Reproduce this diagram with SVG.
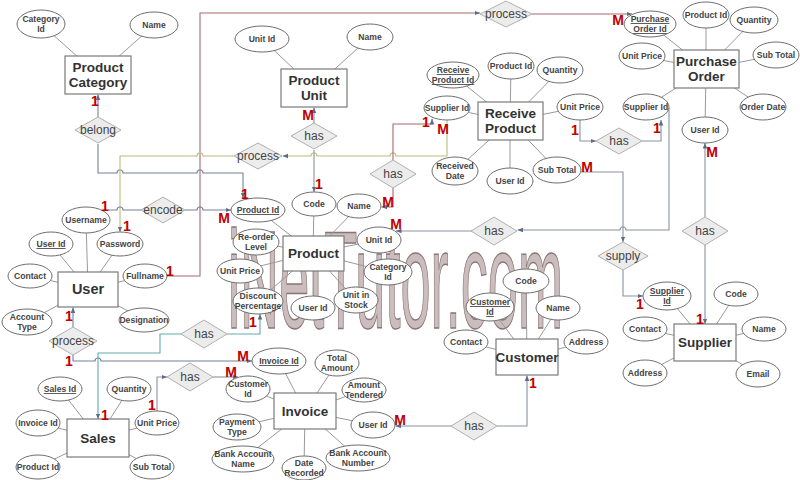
<svg xmlns="http://www.w3.org/2000/svg" width="800" height="480" viewBox="0 0 800 480">
<style>
text{font-family:"Liberation Sans",Arial,sans-serif;}
.ent rect{fill:#fff;stroke:#7a7a7a;stroke-width:1.2;}
.ent text{font-size:13.5px;font-weight:bold;fill:#333;text-anchor:middle;}
.att ellipse{fill:#fff;stroke:#6e6e6e;stroke-width:1;}
.att text{font-size:8.6px;font-weight:bold;fill:#444;text-anchor:middle;}
.u{text-decoration:underline;}
.rel polygon{fill:#ececec;stroke:#b0b0b0;stroke-width:1;}
.rel text{font-size:12px;fill:#444;text-anchor:middle;}
.al{stroke:#9a9a9a;stroke-width:1;fill:none;}
.c{fill:none;stroke-width:1.1;}
.gb{stroke:#75829a;}
.gr{stroke:#8a93a0;}
.mr{stroke:#a8696e;}
.ol{stroke:#bcbc7c;}
.tl{stroke:#63abab;}
.card{font-size:14px;font-weight:bold;fill:#c00000;text-anchor:middle;}
.wm{font-size:140px;fill:#cbbdbd;stroke:#8a7474;stroke-width:1.5;}
</style>
<defs>
<marker id="ar" viewBox="0 0 6 6" refX="6" refY="3" markerWidth="5" markerHeight="5" orient="auto"><path d="M0,0.5 L6,3 L0,5.5 z" fill="#5d6c86"/></marker>
</defs>
<rect width="800" height="480" fill="#fff"/>
<g id="watermark"><text class="wm" x="228" y="328" textLength="335" lengthAdjust="spacingAndGlyphs">iNetTutor.com</text></g>
<g id="connectors">
<g class="al">
<path d="M98,75L41,24M98,75L154,25"/>
<path d="M314,88L262,39M314,88L370,37"/>
<path d="M510,121L453,75M510,121L511,66M510,121L560,70M510,121L447,108M510,121L580,107M510,121L455,171M510,121L510,181M510,121L557,170"/>
<path d="M706,69L650,24M706,69L706,15M706,69L754,20M706,69L642,56M706,69L776,55M706,69L646,107M706,69L763,107M706,69L705,130"/>
<path d="M313,253L258,210M313,253L314,204M313,253L359,206M313,253L379,240M313,253L388,272M313,253L356,300M313,253L313,308M313,253L258,301M313,253L240,271M313,253L256,242"/>
<path d="M88,289L86,220M88,289L51,244M88,289L120,244M88,289L30,276M88,289L145,276M88,289L27,322M88,289L144,320"/>
<path d="M98,438L60,389M98,438L129,389M98,438L38,423M98,438L157,423M98,438L38,467M98,438L152,467"/>
<path d="M305,411L279,361M305,411L337,363M305,411L364,390M305,411L248,389M305,411L237,427M305,411L373,425M305,411L243,459M305,411L304,468M305,411L358,458"/>
<path d="M527,357L526,281M527,357L490,307M527,357L558,308M527,357L466,342M527,357L586,342"/>
<path d="M705,342L667,296M705,342L736,294M705,342L645,329M705,342L764,329M705,342L645,373M705,342L758,374"/>
</g>
<path class="c gb" d="M98,117V94.5" marker-end="url(#ar)"/>
<path class="c gb" d="M98,144V173H117a3,3 0 0 1 6,0H197a3,3 0 0 1 6,0H243V198" marker-end="url(#ar)"/>
<path class="c mr" d="M167,276H200V13H480" marker-end="url(#ar)"/>
<path class="c mr" d="M532,14H632" marker-end="url(#ar)"/>
<path class="c ol" d="M447,120V156H396a3,3 0 0 0 -6,0H317a3,3 0 0 0 -6,0H282.5" marker-end="url(#ar)"/>
<path class="c ol" d="M234,156H203a3,3 0 0 0 -6,0H120V232" marker-end="url(#ar)"/>
<path class="c gr" d="M314,123V107.5" marker-end="url(#ar)"/>
<path class="c gr" d="M314,150V192" marker-end="url(#ar)"/>
<path class="c mr" d="M393,160V124H432V119" marker-end="url(#ar)"/>
<path class="c mr" d="M393,188V207H381.5" marker-end="url(#ar)"/>
<path class="c gb" d="M108,210H117a3,3 0 0 1 6,0H142"/>
<path class="c gb" d="M185,210H197a3,3 0 0 1 6,0H231" marker-end="url(#ar)"/>
<path class="c gr" d="M580,120V141H596" marker-end="url(#ar)"/>
<path class="c gr" d="M642,141H661V120" marker-end="url(#ar)"/>
<path class="c gr" d="M669,108V230H626a3,3 0 0 0 -6,0H517.5" marker-end="url(#ar)"/>
<path class="c gr" d="M472,231H396" marker-end="url(#ar)"/>
<path class="c gr" d="M581,172H623V242" marker-end="url(#ar)"/>
<path class="c gr" d="M623,270V296H643" marker-end="url(#ar)"/>
<path class="c gr" d="M705,217V143" marker-end="url(#ar)"/>
<path class="c gr" d="M705,245V324" marker-end="url(#ar)"/>
<path class="c gb" d="M73,327V307.5" marker-end="url(#ar)"/>
<path class="c gb" d="M73,355V361H95a3,3 0 0 1 6,0H252" marker-end="url(#ar)"/>
<path class="c tl" d="M181,334H160V353H98V419" marker-end="url(#ar)"/>
<path class="c tl" d="M227,334H260V314" marker-end="url(#ar)"/>
<path class="c gr" d="M157,411V377H167" marker-end="url(#ar)"/>
<path class="c gr" d="M213,377H238" marker-end="url(#ar)"/>
<path class="c gr" d="M451,426H395.5" marker-end="url(#ar)"/>
<path class="c gr" d="M497,426H527V375.5" marker-end="url(#ar)"/>
</g>
<g class="rel">
<g id="r-belong"><polygon points="75,130 98,117 121,130 98,143"/><text x="98" y="134">belong</text></g>
<g id="r-process-po"><polygon points="480,14 506,1 532,14 506,27"/><text x="506" y="18">process</text></g>
<g id="r-process-mid"><polygon points="234,156 258,143 282,156 258,169"/><text x="258" y="160">process</text></g>
<g id="r-has-unit"><polygon points="291,136 314,123 337,136 314,149"/><text x="314" y="140">has</text></g>
<g id="r-has-rpsupp"><polygon points="370,174 393,160 416,174 393,188"/><text x="393" y="178">has</text></g>
<g id="r-encode"><polygon points="141,210 163,197 185,210 163,223"/><text x="163" y="214">encode</text></g>
<g id="r-has-price"><polygon points="596,141 619,128 642,141 619,154"/><text x="619" y="145">has</text></g>
<g id="r-has-unitid"><polygon points="471,231 494,217 517,231 494,245"/><text x="494" y="235">has</text></g>
<g id="r-supply"><polygon points="598,256 623,242 648,256 623,270"/><text x="623" y="260">supply</text></g>
<g id="r-has-supplier"><polygon points="682,231 705,217 728,231 705,245"/><text x="705" y="235">has</text></g>
<g id="r-process-user"><polygon points="49,341 73,327 97,341 73,355"/><text x="73" y="345">process</text></g>
<g id="r-has-sales"><polygon points="181,334 204,320 227,334 204,348"/><text x="204" y="338">has</text></g>
<g id="r-has-invoice"><polygon points="167,377 190,363 213,377 190,391"/><text x="190" y="381">has</text></g>
<g id="r-has-customer"><polygon points="451,426 474,412 497,426 474,440"/><text x="474" y="430">has</text></g>
</g>
<g class="ent">
<g id="e-product-category"><rect x="65" y="56" width="66" height="38"/><text x="98" y="72">Product</text><text x="98" y="87">Category</text></g>
<g id="e-product-unit"><rect x="281" y="69" width="66" height="38"/><text x="314" y="85">Product</text><text x="314" y="100">Unit</text></g>
<g id="e-receive-product"><rect x="478" y="102" width="65" height="38"/><text x="510.5" y="118">Receive</text><text x="510.5" y="133">Product</text></g>
<g id="e-purchase-order"><rect x="674" y="50" width="65" height="38"/><text x="706.5" y="66">Purchase</text><text x="706.5" y="81">Order</text></g>
<g id="e-product"><rect x="283" y="236" width="61" height="35"/><text x="313.5" y="258">Product</text></g>
<g id="e-user"><rect x="58" y="272" width="60" height="35"/><text x="88" y="294" style="font-size:14.5px">User</text></g>
<g id="e-sales"><rect x="67" y="419" width="62" height="38"/><text x="98" y="443">Sales</text></g>
<g id="e-invoice"><rect x="274" y="393" width="62" height="36"/><text x="305" y="416">Invoice</text></g>
<g id="e-customer"><rect x="496" y="339" width="62" height="36"/><text x="527" y="362">Customer</text></g>
<g id="e-supplier"><rect x="674" y="324" width="62" height="37"/><text x="705" y="347">Supplier</text></g>
</g>
<g class="att">
<g id="a-pc-catid"><ellipse cx="41" cy="24" rx="24" ry="14"/><text x="41" y="22">Category</text><text x="41" y="32">Id</text></g>
<g id="a-pc-name"><ellipse cx="154" cy="25" rx="24" ry="13"/><text x="154" y="28">Name</text></g>
<g id="a-pu-unitid"><ellipse cx="262" cy="39" rx="27" ry="13"/><text x="262" y="42">Unit Id</text></g>
<g id="a-pu-name"><ellipse cx="370" cy="37" rx="23" ry="13"/><text x="370" y="40">Name</text></g>
<g id="a-rp-id"><ellipse cx="453" cy="75" rx="26" ry="13"/><text class="u" x="453" y="73">Receive</text><text class="u" x="453" y="83">Product Id</text></g>
<g id="a-rp-productid"><ellipse cx="511" cy="66" rx="23" ry="13"/><text x="511" y="69">Product Id</text></g>
<g id="a-rp-quantity"><ellipse cx="560" cy="70" rx="23" ry="13"/><text x="560" y="73">Quantity</text></g>
<g id="a-rp-supplierid"><ellipse cx="447" cy="108" rx="23" ry="12"/><text x="447" y="111">Supplier Id</text></g>
<g id="a-rp-unitprice"><ellipse cx="580" cy="107" rx="23" ry="13"/><text x="580" y="110">Unit Price</text></g>
<g id="a-rp-date"><ellipse cx="455" cy="171" rx="23" ry="14"/><text x="455" y="169">Received</text><text x="455" y="179">Date</text></g>
<g id="a-rp-userid"><ellipse cx="510" cy="181" rx="23" ry="13"/><text x="510" y="184">User Id</text></g>
<g id="a-rp-subtotal"><ellipse cx="557" cy="170" rx="24" ry="13"/><text x="557" y="173">Sub Total</text></g>
<g id="a-po-id"><ellipse cx="650" cy="24" rx="26" ry="13"/><text class="u" x="650" y="22">Purchase</text><text class="u" x="650" y="32">Order Id</text></g>
<g id="a-po-productid"><ellipse cx="706" cy="15" rx="23" ry="13"/><text x="706" y="18">Product Id</text></g>
<g id="a-po-quantity"><ellipse cx="754" cy="20" rx="24" ry="13"/><text x="754" y="23">Quantity</text></g>
<g id="a-po-unitprice"><ellipse cx="642" cy="56" rx="23" ry="13"/><text x="642" y="59">Unit Price</text></g>
<g id="a-po-subtotal"><ellipse cx="776" cy="55" rx="23" ry="13"/><text x="776" y="58">Sub Total</text></g>
<g id="a-po-supplierid"><ellipse cx="646" cy="107" rx="23" ry="13"/><text x="646" y="110">Supplier Id</text></g>
<g id="a-po-orderdate"><ellipse cx="763" cy="107" rx="23" ry="13"/><text x="763" y="110">Order Date</text></g>
<g id="a-po-userid"><ellipse cx="705" cy="130" rx="23" ry="13"/><text x="705" y="133">User Id</text></g>
<g id="a-p-id"><ellipse cx="258" cy="210" rx="27" ry="12"/><text class="u" x="258" y="213">Product Id</text></g>
<g id="a-p-code"><ellipse cx="314" cy="204" rx="22" ry="12"/><text x="314" y="207">Code</text></g>
<g id="a-p-name"><ellipse cx="359" cy="206" rx="22" ry="12"/><text x="359" y="209">Name</text></g>
<g id="a-p-unitid"><ellipse cx="379" cy="240" rx="22" ry="13"/><text x="379" y="243">Unit Id</text></g>
<g id="a-p-catid"><ellipse cx="388" cy="272" rx="24" ry="13"/><text x="388" y="270">Category</text><text x="388" y="280">Id</text></g>
<g id="a-p-stock"><ellipse cx="356" cy="300" rx="22" ry="13"/><text x="356" y="298">Unit in</text><text x="356" y="308">Stock</text></g>
<g id="a-p-userid"><ellipse cx="313" cy="308" rx="22" ry="12"/><text x="313" y="311">User Id</text></g>
<g id="a-p-discount"><ellipse cx="258" cy="301" rx="25" ry="13"/><text x="258" y="299">Discount</text><text x="258" y="309">Percentage</text></g>
<g id="a-p-unitprice"><ellipse cx="240" cy="271" rx="23" ry="12"/><text x="240" y="274">Unit Price</text></g>
<g id="a-p-reorder"><ellipse cx="256" cy="242" rx="23" ry="13"/><text x="256" y="240">Re-order</text><text x="256" y="250">Level</text></g>
<g id="a-u-username"><ellipse cx="86" cy="220" rx="24" ry="13"/><text x="86" y="223">Username</text></g>
<g id="a-u-userid"><ellipse cx="51" cy="244" rx="22" ry="12"/><text class="u" x="51" y="247">User Id</text></g>
<g id="a-u-password"><ellipse cx="120" cy="244" rx="23" ry="12"/><text x="120" y="247">Password</text></g>
<g id="a-u-contact"><ellipse cx="30" cy="276" rx="22" ry="12"/><text x="30" y="279">Contact</text></g>
<g id="a-u-fullname"><ellipse cx="145" cy="276" rx="22" ry="12"/><text x="145" y="279">Fullname</text></g>
<g id="a-u-type"><ellipse cx="27" cy="322" rx="25" ry="13"/><text x="27" y="320">Account</text><text x="27" y="330">Type</text></g>
<g id="a-u-designation"><ellipse cx="144" cy="320" rx="25" ry="12"/><text x="144" y="323">Designation</text></g>
<g id="a-s-id"><ellipse cx="60" cy="389" rx="22" ry="12"/><text class="u" x="60" y="392">Sales Id</text></g>
<g id="a-s-quantity"><ellipse cx="129" cy="389" rx="22" ry="12"/><text x="129" y="392">Quantity</text></g>
<g id="a-s-invoiceid"><ellipse cx="38" cy="423" rx="22" ry="13"/><text x="38" y="426">Invoice Id</text></g>
<g id="a-s-unitprice"><ellipse cx="157" cy="423" rx="22" ry="12"/><text x="157" y="426">Unit Price</text></g>
<g id="a-s-productid"><ellipse cx="38" cy="467" rx="22" ry="12"/><text x="38" y="470">Product Id</text></g>
<g id="a-s-subtotal"><ellipse cx="152" cy="467" rx="22" ry="12"/><text x="152" y="470">Sub Total</text></g>
<g id="a-i-id"><ellipse cx="279" cy="361" rx="27" ry="13"/><text class="u" x="279" y="364">Invoice Id</text></g>
<g id="a-i-total"><ellipse cx="337" cy="363" rx="22" ry="13"/><text x="337" y="361">Total</text><text x="337" y="371">Amount</text></g>
<g id="a-i-tendered"><ellipse cx="364" cy="390" rx="22" ry="12"/><text x="364" y="388">Amount</text><text x="364" y="398">Tendered</text></g>
<g id="a-i-customerid"><ellipse cx="248" cy="389" rx="22" ry="13"/><text x="248" y="387">Customer</text><text x="248" y="397">Id</text></g>
<g id="a-i-payment"><ellipse cx="237" cy="427" rx="24" ry="13"/><text x="237" y="425">Payment</text><text x="237" y="435">Type</text></g>
<g id="a-i-userid"><ellipse cx="373" cy="425" rx="22" ry="13"/><text x="373" y="428">User Id</text></g>
<g id="a-i-bankname"><ellipse cx="243" cy="459" rx="31" ry="13"/><text x="243" y="457">Bank Account</text><text x="243" y="467">Name</text></g>
<g id="a-i-date"><ellipse cx="304" cy="468" rx="22" ry="12"/><text x="304" y="466">Date</text><text x="304" y="476">Recorded</text></g>
<g id="a-i-banknumber"><ellipse cx="358" cy="458" rx="32" ry="13"/><text x="358" y="456">Bank Account</text><text x="358" y="466">Number</text></g>
<g id="a-c-code"><ellipse cx="526" cy="281" rx="23" ry="12"/><text x="526" y="284">Code</text></g>
<g id="a-c-id"><ellipse cx="490" cy="307" rx="24" ry="14"/><text class="u" x="490" y="305">Customer</text><text class="u" x="490" y="315">Id</text></g>
<g id="a-c-name"><ellipse cx="558" cy="308" rx="22" ry="12"/><text x="558" y="311">Name</text></g>
<g id="a-c-contact"><ellipse cx="466" cy="342" rx="22" ry="12"/><text x="466" y="345">Contact</text></g>
<g id="a-c-address"><ellipse cx="586" cy="342" rx="22" ry="12"/><text x="586" y="345">Address</text></g>
<g id="a-sp-id"><ellipse cx="667" cy="296" rx="24" ry="14"/><text class="u" x="667" y="294">Supplier</text><text class="u" x="667" y="304">Id</text></g>
<g id="a-sp-code"><ellipse cx="736" cy="294" rx="22" ry="12"/><text x="736" y="297">Code</text></g>
<g id="a-sp-contact"><ellipse cx="645" cy="329" rx="22" ry="12"/><text x="645" y="332">Contact</text></g>
<g id="a-sp-name"><ellipse cx="764" cy="329" rx="22" ry="12"/><text x="764" y="332">Name</text></g>
<g id="a-sp-address"><ellipse cx="645" cy="373" rx="22" ry="13"/><text x="645" y="376">Address</text></g>
<g id="a-sp-email"><ellipse cx="758" cy="374" rx="22" ry="13"/><text x="758" y="377">Email</text></g>
</g>
<g id="cardinalities" class="card">
<text class="card" x="95" y="106">1</text>
<text class="card" x="308" y="120">M</text>
<text class="card" x="426" y="127">1</text>
<text class="card" x="443" y="134">M</text>
<text class="card" x="618" y="25">M</text>
<text class="card" x="575" y="135">1</text>
<text class="card" x="657" y="133">1</text>
<text class="card" x="712" y="157">M</text>
<text class="card" x="105" y="211">1</text>
<text class="card" x="127" y="231">1</text>
<text class="card" x="170" y="276">1</text>
<text class="card" x="245" y="199">1</text>
<text class="card" x="224" y="223">M</text>
<text class="card" x="319" y="189">1</text>
<text class="card" x="388" y="207">M</text>
<text class="card" x="396" y="229">M</text>
<text class="card" x="587" y="172">M</text>
<text class="card" x="640" y="309">1</text>
<text class="card" x="700" y="324">1</text>
<text class="card" x="69" y="321">1</text>
<text class="card" x="69" y="366">1</text>
<text class="card" x="243" y="361">M</text>
<text class="card" x="231" y="377">M</text>
<text class="card" x="152" y="410">1</text>
<text class="card" x="105" y="420">1</text>
<text class="card" x="253" y="327">1</text>
<text class="card" x="400" y="425">M</text>
<text class="card" x="533" y="388">1</text>
</g>
</svg>
